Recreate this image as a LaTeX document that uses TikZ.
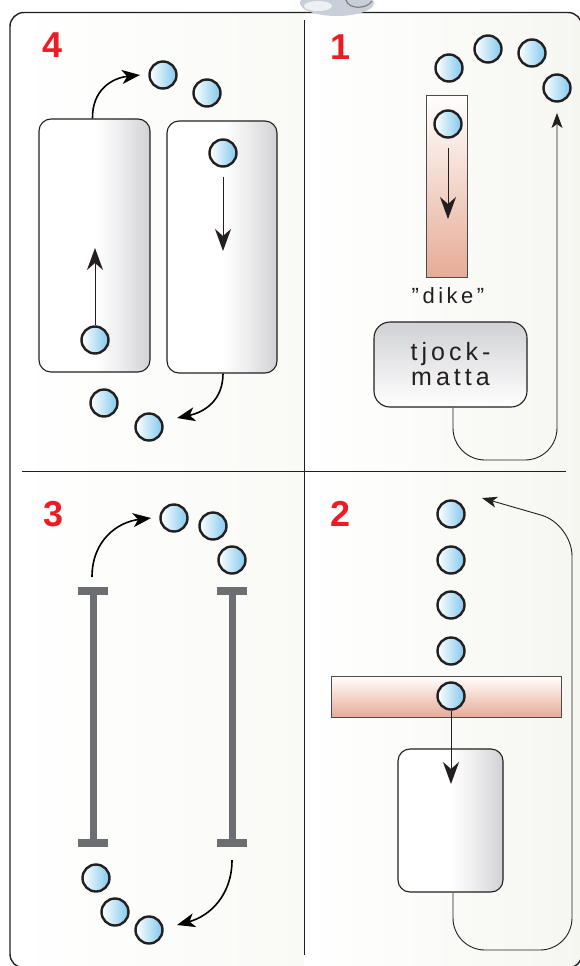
\documentclass[tikz,border=0pt]{standalone}
\usepackage{fontspec}
\setsansfont{Liberation Sans}
\newfontfamily\spaced[LetterSpace=16]{Liberation Sans}
\usepackage{xcolor}
\usepackage{tikz}
\usetikzlibrary{arrows.meta, positioning, calc}

\definecolor{numred}{RGB}{237,28,36}
\definecolor{ballblue}{RGB}{130,200,238}
\definecolor{salmon}{RGB}{230,172,150}
\definecolor{beamgray}{RGB}{109,110,113}
\definecolor{boxgray}{RGB}{208,209,212}
\definecolor{inkgray}{RGB}{35,31,32}
\definecolor{panelgray}{RGB}{246,246,241}
\definecolor{mouseblue}{RGB}{200,207,216}

\pgfdeclarehorizontalshading{boxshade}{100bp}{color(0bp)=(white); color(25bp)=(white); color(50bp)=(white); color(62bp)=(boxgray!40); color(75bp)=(boxgray); color(100bp)=(boxgray)}

\tikzstyle{ball} = [circle, draw=inkgray, line width=2.4pt, minimum size=27pt, inner sep=0pt, left color=white, right color=ballblue]
\tikzstyle{panelbox} = [draw=inkgray, line width=1.1pt, rounded corners=12pt, shading=boxshade, inner sep=0pt]
\tikzstyle{band} = [draw=black!70, line width=1pt, top color=white, bottom color=salmon, inner sep=0pt]
\tikzstyle{num} = [text=numred, font=\sffamily\bfseries\fontsize{36}{36}\selectfont, inner sep=0pt]
\tikzstyle{arrow} = [line width=1pt, draw=inkgray, -{Stealth[length=22pt, width=16pt, inset=7pt]}]
\tikzstyle{curvearrow} = [line width=1.6pt, -{Stealth[length=18pt, width=14pt, inset=5pt]}]
\tikzstyle{loopline} = [line width=0.9pt, draw=inkgray, rounded corners=32pt, -{Stealth[length=15pt, width=11pt, inset=4pt]}]
\tikzstyle{beam} = [draw=beamgray, line width=7pt]

\begin{document}
\begin{tikzpicture}[x=1pt, y=-1pt]
\useasboundingbox (0,0) rectangle (580,966);

% Panel backgrounds
\begin{scope}
\clip[rounded corners=14pt] (10,12.5) rectangle (582,968);
\shade[left color=white, right color=white!35!panelgray] (10,12.5) rectangle (304,968);
\shade[left color=white, right color=panelgray] (304,12.5) rectangle (582,968);
\end{scope}

% Frame and dividers
\draw[line width=1.4pt, inkgray, rounded corners=14pt] (10,12.5) rectangle (582,968);
\draw[line width=0.9pt, inkgray] (304,20) -- (304,955);
\draw[line width=0.9pt, inkgray] (22,471) -- (566,471);

% Clip art piece at the top
\fill[mouseblue] (337,3) ellipse (37pt and 13pt);
\fill[white!70!mouseblue] (318,6) ellipse (14pt and 5pt);
\draw[gray, line width=1.2pt] (346,0) .. controls (348,9) and (366,10) .. (372,1);

% Panel 4
\node[num] (n4) at (53,45.5) {4};
\node[panelbox, minimum width=111pt, minimum height=253pt] (lbox) at (94.5,245.5) {};
\node[panelbox, minimum width=110pt, minimum height=252pt] (rbox) at (222,247) {};
\node[ball] (a1) at (163,75) {};
\node[ball] (a2) at (207,93) {};
\node[ball] (a3) at (223,153) {};
\node[ball] (a4) at (95,340) {};
\node[ball] (a5) at (104,403) {};
\node[ball] (a6) at (149,427) {};
\coordinate (a4tip) at (95,248);
\coordinate (a3tip) at (223,251);
\coordinate (a1tip) at (140,75);
\coordinate (a6tip) at (177,418);
\draw[arrow] (a4) -- (a4tip);
\draw[arrow, shorten <=9pt] (a3) -- (a3tip);
\draw[curvearrow] ([xshift=-2pt]lbox.north) .. controls (92,90) and (112,78) .. (a1tip);
\draw[curvearrow] ([xshift=1pt]rbox.south) .. controls (223,400) and (205,412) .. (a6tip);

% Panel 1
\node[num] (n1) at (341,47.5) {1};
\node[band, minimum width=41pt, minimum height=182pt] (dike) at (446.5,186) {};
\node[ball] (b1) at (449,68) {};
\node[ball] (b2) at (488,49) {};
\node[ball] (b3) at (532,53) {};
\node[ball] (b4) at (557,88) {};
\node[ball] (b5) at (448,124) {};
\coordinate (b5tip) at (448,219);
\draw[arrow, shorten <=9pt] (b5) -- (b5tip);
\node[text=inkgray, font=\spaced\fontsize{22}{22}\selectfont, inner sep=0pt] (dikelbl) at (448,296) {”dike”};
\node[draw=inkgray, line width=1.1pt, rounded corners=16pt, top color=boxgray, bottom color=white,
      minimum width=153pt, minimum height=85pt, align=center, text=inkgray,
      font=\spaced\fontsize{25}{25}\selectfont] (tjock) at (450.5,364.5) {tjock-\\matta};
\coordinate (b4tip) at (557,113);
\draw[loopline] ([xshift=2.5pt]tjock.south) -- (453,460) -- (557,460) -- (b4tip);

% Panel 2
\node[num] (n2) at (341,513.5) {2};
\node[band, minimum width=230pt, minimum height=41pt] (mat) at (446,696.5) {};
\node[panelbox, minimum width=105pt, minimum height=143pt] (cbox) at (450.5,820.5) {};
\node[ball] (c1) at (451,514) {};
\node[ball] (c2) at (451,560) {};
\node[ball] (c3) at (451,605) {};
\node[ball] (c4) at (451,651) {};
\node[ball] (c5) at (451,696) {};
\coordinate (c5tip) at (451,784);
\coordinate (c1tip) at (482,498);
\draw[arrow] (c5) -- (c5tip);
\draw[loopline] ([xshift=2.5pt]cbox.south) -- (453,950) -- (572,950) -- (572,524) -- (c1tip);

% Panel 3
\node[num] (n3) at (54,514.5) {3};
\draw[beam] (93,591) -- (93,843);
\draw[beam, line width=8pt] (78,591) -- (108,591);
\draw[beam, line width=8pt] (78,843) -- (108,843);
\draw[beam] (232,591) -- (232,843);
\draw[beam, line width=8pt] (217,591) -- (247,591);
\draw[beam, line width=8pt] (217,843) -- (247,843);
\node[ball] (d1) at (174,518) {};
\node[ball] (d2) at (213,526) {};
\node[ball] (d3) at (232,560) {};
\node[ball] (d4) at (96,878) {};
\node[ball] (d5) at (115,912) {};
\node[ball] (d6) at (149,930) {};
\coordinate (lbeamtop) at (92,577);
\coordinate (d1tip) at (151,518);
\coordinate (rbeambot) at (232,860);
\coordinate (d6tip) at (177,925);
\draw[curvearrow] (lbeamtop) .. controls (92,540) and (118,522) .. (d1tip);
\draw[curvearrow] (rbeambot) .. controls (232,895) and (210,916) .. (d6tip);
\end{tikzpicture}
\end{document}
